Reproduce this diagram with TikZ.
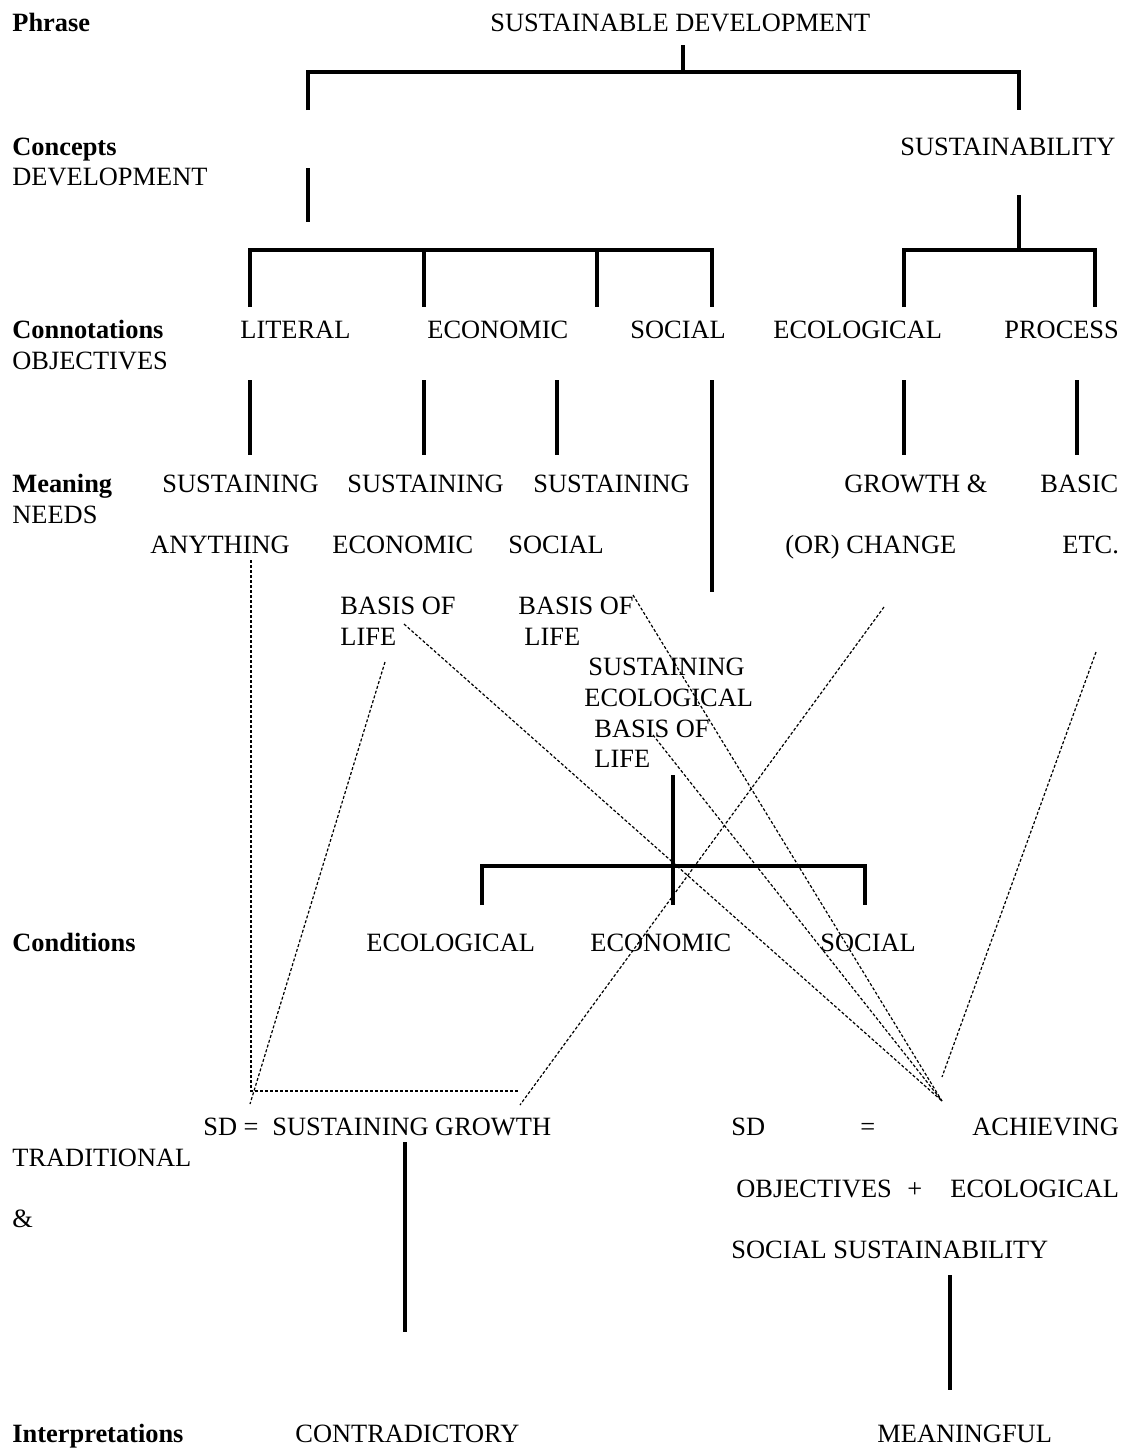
\documentclass[tikz,border=0pt]{standalone}
\usepackage{fontspec}
\setmainfont{Liberation Serif}
\begin{document}
\begin{tikzpicture}[x=0.5pt,y=-0.5pt,font=\fontsize{13.2}{15.8}\selectfont,
  lbl/.style={anchor=base west,inner sep=0pt},
  hd/.style={lbl,font=\fontsize{13.2}{15.8}\selectfont\bfseries},
  bar/.style={line width=2.2pt},
  link/.style={line width=0.6pt,dash pattern=on 1.5pt off 1pt}]
  \useasboundingbox (0,0) rectangle (1126,1448);
  % row headings
  \foreach \n/\y/\t in {phr/31/Phrase,con/155/Concepts,cnt/338/Connotations,mea/492/Meaning,cnd/951/Conditions,itp/1442/Interpretations}
    \node[hd] (\n) at (12,\y) {\t};
  \node[lbl] (dev) at (12,185) {DEVELOPMENT};
  \node[lbl] (obj) at (12,369) {OBJECTIVES};
  \node[lbl] (nee) at (12,523) {NEEDS};
  \node[lbl] (tra) at (12,1166) {TRADITIONAL};
  \node[lbl] (amp) at (12,1227) {\&};
  % phrase and concepts
  \node[lbl] (sd) at (490,31) {SUSTAINABLE DEVELOPMENT};
  \node[lbl] (sus) at (900,155) {SUSTAINABILITY};
  % connotations
  \foreach \n/\x/\t in {lit/240/LITERAL,eco/427/ECONOMIC,soc/630/SOCIAL,ecl/773/ECOLOGICAL,pro/1004/PROCESS}
    \node[lbl] (\n) at (\x,338) {\t};
  % meaning
  \foreach \n/\x/\t in {m1/162/SUSTAINING,m2/347/SUSTAINING,m3/533/SUSTAINING,m4/844/GROWTH \&,m5/1040/BASIC}
    \node[lbl] (\n) at (\x,492) {\t};
  \foreach \n/\x/\t in {n1/150/ANYTHING,n2/332/ECONOMIC,n3/508/SOCIAL,n4/785/(OR) CHANGE,n5/1062/ETC.}
    \node[lbl] (\n) at (\x,553) {\t};
  \node[lbl] (b1) at (340,614) {BASIS OF};
  \node[lbl] (l1) at (340,645) {LIFE};
  \node[lbl] (b2) at (518,614) {BASIS OF};
  \node[lbl] (l2) at (524,645) {LIFE};
  \node[lbl] (s3) at (588,675) {SUSTAINING};
  \node[lbl] (e3) at (584,706) {ECOLOGICAL};
  \node[lbl] (b3) at (594,737) {BASIS OF};
  \node[lbl] (l3) at (594,767) {LIFE};
  % conditions
  \node[lbl] (cec) at (366,951) {ECOLOGICAL};
  \node[lbl] (cen) at (590,951) {ECONOMIC};
  \node[lbl] (cso) at (820,951) {SOCIAL};
  % results
  \node[lbl] (sdl) at (203,1135) {SD =};
  \node[lbl] (grw) at (272,1135) {SUSTAINING GROWTH};
  \node[lbl] (sdr) at (731,1135) {SD};
  \node[lbl] (eqr) at (860,1135) {=};
  \node[lbl] (ach) at (972,1135) {ACHIEVING};
  \node[lbl] (ob2) at (736,1197) {OBJECTIVES};
  \node[lbl] (pls) at (907,1197) {+};
  \node[lbl] (ec2) at (950,1197) {ECOLOGICAL};
  \node[lbl] (ssu) at (731,1258) {SOCIAL SUSTAINABILITY};
  \node[lbl] (ctr) at (295,1442) {CONTRADICTORY};
  \node[lbl] (mng) at (877,1442) {MEANINGFUL};
  % brackets
  \draw[bar] (683,45) -- (683,72);
  \draw[bar] (308,110) -- (308,72) -- (1019,72) -- (1019,110);
  \draw[bar] (308,168) -- (308,222);
  \draw[bar] (250,307) -- (250,250) -- (712,250) -- (712,307);
  \draw[bar] (424,250) -- (424,307);
  \draw[bar] (597,250) -- (597,307);
  \draw[bar] (1019,195) -- (1019,248);
  \draw[bar] (904,307) -- (904,250) -- (1095,250) -- (1095,307);
  \foreach \x in {250,424,557,904,1077} \draw[bar] (\x,380) -- (\x,455);
  \draw[bar] (712,380) -- (712,592);
  \draw[bar] (673,775) -- (673,905);
  \draw[bar] (482,905) -- (482,866) -- (865,866) -- (865,905);
  \draw[bar] (405,1142) -- (405,1332);
  \draw[bar] (950,1275) -- (950,1390);
  % dotted links
  \coordinate (anyE) at (251,560);
  \coordinate (lifeA) at (385,662);
  \coordinate (lifeB) at (404,624);
  \coordinate (basB) at (633,595);
  \coordinate (basC) at (653,735);
  \coordinate (chgE) at (884,607);
  \coordinate (etcE) at (1096,652);
  \coordinate (tl) at (251,1091);
  \coordinate (tr) at (520,1091);
  \coordinate (tlow) at (250,1104);
  \coordinate (trlow) at (520,1105);
  \coordinate (achB) at (942,1101);
  \coordinate (achT) at (942,1077);
  \draw[link] (anyE) -- (tl) -- (tr);
  \draw[link] (lifeA) -- (tlow);
  \draw[link] (chgE) -- (trlow);
  \draw[link] (lifeB) -- (achB);
  \draw[link] (basB) -- (achB);
  \draw[link] (basC) -- (achB);
  \draw[link] (etcE) -- (achT);
\end{tikzpicture}
\end{document}
